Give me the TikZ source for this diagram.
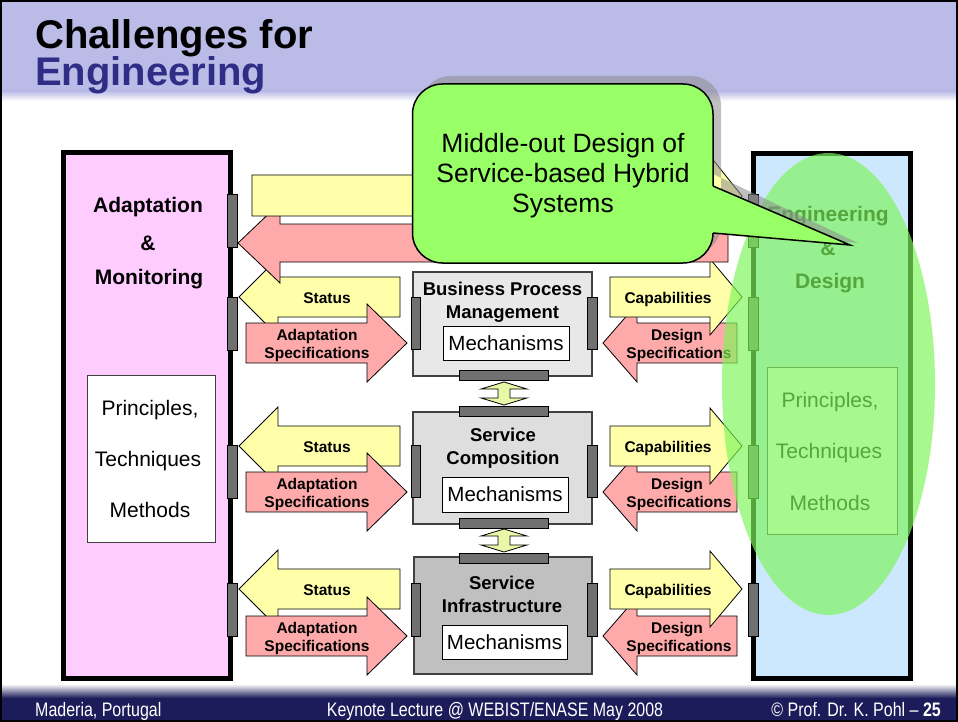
\documentclass[tikz,border=0pt]{standalone}
\usepackage{fontspec}
\setmainfont{Liberation Sans}
\newfontfamily\narrowfont[FakeStretch=0.82]{Liberation Sans}
\usetikzlibrary{shapes.geometric}
\definecolor{titlebar}{HTML}{BBBBE8}
\definecolor{titleblue}{HTML}{2E2E86}
\definecolor{footbar}{HTML}{1C1C5A}
\definecolor{pinkbox}{HTML}{FFCCFF}
\definecolor{bluebox}{HTML}{CCE8FF}
\definecolor{portgray}{HTML}{707070}
\definecolor{ylw}{HTML}{FFFFAA}
\definecolor{pnk}{HTML}{FFAAAA}
\definecolor{bpmgray}{HTML}{E8E8E8}
\definecolor{scgray}{HTML}{DEDEDE}
\definecolor{sigray}{HTML}{C0C0C0}
\definecolor{boxedge}{HTML}{404040}
\definecolor{calloutgreen}{HTML}{99FF66}
\definecolor{ellgreen}{HTML}{7EF55A}
\definecolor{dblarrow}{HTML}{E8F8A8}
\definecolor{shadowgray}{HTML}{8C8C8C}
\newcommand\myfs[2]{\fontsize{#1}{#2}\selectfont}
\begin{document}
\begin{tikzpicture}[x=1pt,y=-1pt,
  lbl/.style={inner sep=0pt, anchor=base, font=\myfs{15.5}{17}\bfseries},
  big/.style={inner sep=0pt, anchor=base, font=\myfs{21}{24}\bfseries},
  ptm/.style={inner sep=0pt, anchor=base, font=\myfs{21}{24}},
  ctitle/.style={inner sep=0pt, anchor=base, font=\myfs{18.5}{21}\bfseries},
  sidebox/.style={draw=black, line width=5pt, inner sep=0pt},
  innerbox/.style={draw=boxedge, line width=0.9pt, fill=white, inner sep=0pt},
  layer/.style={draw=boxedge, line width=1.2pt, inner sep=0pt},
  mech/.style={draw=black, line width=0.9pt, fill=white, inner sep=0pt, font=\myfs{20.5}{23}},
  port/.style={fill=portgray, draw=black, line width=0.7pt},
  yarrow/.style={fill=ylw, draw=black, line width=0.8pt, line join=miter},
  parrow/.style={fill=pnk, draw=black, line width=0.8pt, line join=miter},
  darrow/.style={fill=dblarrow, draw=black, line width=0.8pt, line join=miter},
  foot/.style={inner sep=0pt, text=white, font=\narrowfont\myfs{19.5}{21}},
  co/.style={inner sep=0pt, anchor=base, font=\myfs{26.5}{29}},
]
\fill[white] (0,0) rectangle (958,722);
\useasboundingbox (0,0) rectangle (958,722);

% title bar
\fill[titlebar] (0,0) rectangle (958,91);
\shade[top color=titlebar, bottom color=white] (0,91) rectangle (958,101);
\node[inner sep=0pt, anchor=base west, font=\myfs{40}{40}\bfseries] (t1) at (35,49) {Challenges for};
\node[inner sep=0pt, anchor=base west, font=\myfs{40}{40}\bfseries, text=titleblue] (t2) at (35,86) {Engineering};

% footer
\shade[top color=white, bottom color=footbar] (0,684) rectangle (958,698);
\fill[footbar] (0,698) rectangle (958,722);
\node[foot, anchor=base west] (f1) at (35,716) {Maderia, Portugal};
\node[foot, anchor=base] (f2) at (495,716) {Keynote Lecture @ WEBIST/ENASE May 2008};
\node[foot, anchor=base east] (f3) at (941,716) {© Prof. Dr. K. Pohl – \textbf{25}};

% side boxes
\node[sidebox, fill=pinkbox, minimum width=167pt, minimum height=525pt] (am) at (147,415.5) {};
\node[big] (am1) at (148,212) {Adaptation};
\node[big] (am2) at (148,250) {\&};
\node[big] (am3) at (149,284) {Monitoring};
\node[innerbox, minimum width=128pt, minimum height=167pt] (ptmL) at (151,458.5) {};
\node[ptm] (pl1) at (150,415) {Principles,};
\node[ptm] (pl2) at (148,466) {Techniques};
\node[ptm] (pl3) at (150,517) {Methods};

\node[sidebox, fill=bluebox, minimum width=157.5pt, minimum height=524.5pt] (ed) at (831.75,415.75) {};
\node[big] (ed1) at (828,222) {Engineering};
\node[big] (ed2) at (828,255) {\&};
\node[big] (ed3) at (830,288) {Design};
\node[innerbox, minimum width=130pt, minimum height=167pt] (ptmR) at (832,450.5) {};
\node[ptm] (pr1) at (830,407) {Principles,};
\node[ptm] (pr2) at (829,458) {Techniques};
\node[ptm] (pr3) at (830,510) {Methods};

% layer boxes
\node[layer, fill=bpmgray, minimum width=179pt, minimum height=104pt] (bpm) at (502.5,324) {};
\node[ctitle] (bpm1) at (502.5,295) {Business Process};
\node[ctitle] (bpm2) at (502.5,318) {Management};
\node[mech, minimum width=126pt, minimum height=34pt] (mech1) at (506,343) {Mechanisms};

\node[layer, fill=scgray, minimum width=179pt, minimum height=112pt] (sc) at (502.5,468) {};
\node[ctitle] (sc1) at (503,441) {Service};
\node[ctitle] (sc2) at (503,464) {Composition};
\node[mech, minimum width=126pt, minimum height=35pt] (mech2) at (505,494.5) {Mechanisms};

\node[layer, fill=sigray, minimum width=178pt, minimum height=117pt] (si) at (503,615.5) {};
\node[ctitle] (si1) at (502,589) {Service};
\node[ctitle] (si2) at (502,612) {Infrastructure};
\node[mech, minimum width=125pt, minimum height=34pt] (mech3) at (504.5,642) {Mechanisms};

% row arrows
\foreach \ys/\ya/\n in {297/343/1, 446/492/2, 589/636/3} {
  % left side
  \draw[yarrow] (239,\ys) -- (278,{\ys-39}) -- (278,{\ys-20}) -- (400,{\ys-20}) -- (400,{\ys+20}) -- (278,{\ys+20}) -- (278,{\ys+39}) -- cycle;
  \draw[parrow] (246,{\ya-20}) -- (367,{\ya-20}) -- (367,{\ya-39}) -- (407,\ya) -- (367,{\ya+39}) -- (367,{\ya+20}) -- (246,{\ya+20}) -- cycle;
  \node[lbl] (st\n) at (327,{\ys+6}) {Status};
  \node[lbl] (ad\n) at (317,{\ya-3}) {Adaptation};
  \node[lbl] (as\n) at (317,{\ya+15}) {Specifications};
  % right side
  \draw[parrow] (603,\ya) -- (637,{\ya-39}) -- (637,{\ya-20}) -- (737,{\ya-20}) -- (737,{\ya+20}) -- (637,{\ya+20}) -- (637,{\ya+39}) -- cycle;
  \draw[yarrow] (610,{\ys-20}) -- (710,{\ys-20}) -- (710,{\ys-38}) -- (742,\ys) -- (710,{\ys+38}) -- (710,{\ys+20}) -- (610,{\ys+20}) -- cycle;
  \node[lbl] (cp\n) at (668,{\ys+6}) {Capabilities};
  \node[lbl] (ds\n) at (677,{\ya-3}) {Design};
  \node[lbl] (dp\n) at (679,{\ya+15}) {Specifications};
}

% top arrows
\draw[parrow] (238,243) -- (280,203) -- (280,224) -- (728,224) -- (728,262) -- (280,262) -- (280,283) -- cycle;
\draw[yarrow] (252,175) -- (710,175) -- (710,156) -- (742,196) -- (710,236) -- (710,216) -- (252,216) -- cycle;

% ports
\foreach \a/\b in {194/247, 297/350, 445/498, 583/636} {
  \draw[port] (227,\a) rectangle (237,\b);
  \draw[port] (748,\a) rectangle (758,\b);
}
\foreach \a/\b in {297/349, 445/497, 583/636} {
  \draw[port] (411,\a) rectangle (420,\b);
  \draw[port] (587,\a) rectangle (597,\b);
}
\foreach \a in {370, 406, 518, 553} {
  \draw[port] (459,\a) rectangle (548,{\a+10});
}

% double arrows between layers
\foreach \t/\b in {382/405, 529/552} {
  \draw[darrow] (504,\t) -- (527,{\t+7}) -- (510,{\t+7}) -- (510,{\b-7}) -- (527,{\b-7}) -- (504,\b) -- (481,{\b-7}) -- (498,{\b-7}) -- (498,{\t+7}) -- (481,{\t+7}) -- cycle;
}

% highlight ellipse
\node[ellipse, fill=ellgreen, fill opacity=0.68, minimum width=213pt, minimum height=462pt, inner sep=0pt] (hl) at (828.5,384) {};

% callout
\fill[shadowgray, opacity=0.55] [rounded corners=30pt] (420.5,76) rectangle (721,255) [sharp corners] (713,174) -- (858,243) -- (713,229) -- cycle;
\fill[calloutgreen, rounded corners=30pt] (412.5,84) rectangle (713,263);
\draw[black, line width=1.5pt, rounded corners=30pt] (412.5,84) rectangle (713,263);
\fill[calloutgreen] (705,186) -- (713,186) -- (850,245) -- (713,233) -- (705,233) -- cycle;
\draw[black, line width=1.5pt, line join=miter] (713,186) -- (850,245) -- (713,233);
\node[co] (co1) at (563,153) {Middle-out Design of};
\node[co] (co2) at (563,182.5) {Service-based Hybrid};
\node[co] (co3) at (563,212) {Systems};

% frame
\draw[black, line width=2pt] (1,1) rectangle (957,721);
\end{tikzpicture}
\end{document}
